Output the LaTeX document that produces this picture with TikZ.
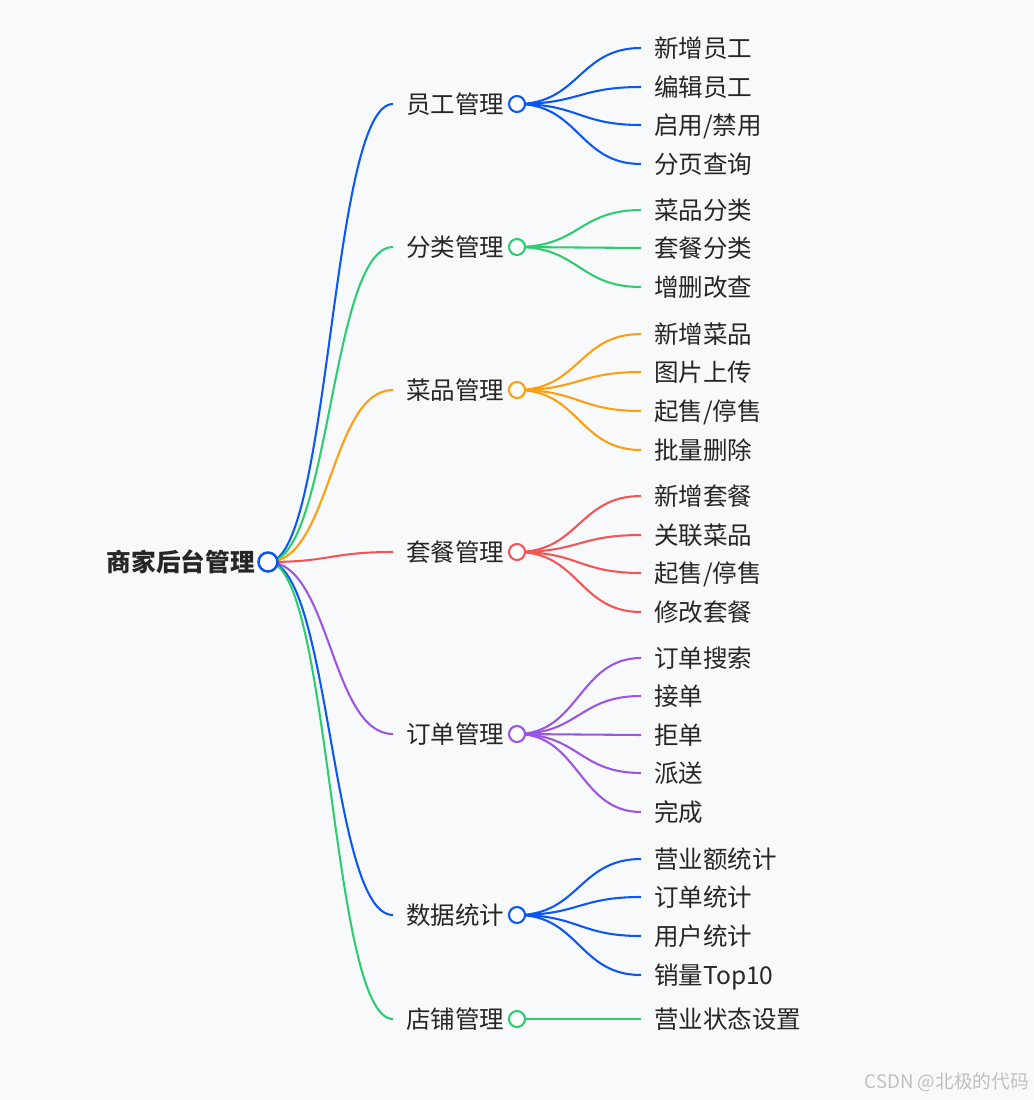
\documentclass[tikz,border=0pt]{standalone}
\usepackage{fontspec}
\setmainfont{Noto Sans CJK SC}
\definecolor{bgc}{HTML}{F8F9FB}
\definecolor{cblue}{HTML}{0B57F5}
\definecolor{cgreen}{HTML}{2ECC71}
\definecolor{corange}{HTML}{FF9E0D}
\definecolor{cred}{HTML}{F55454}
\definecolor{cpurple}{HTML}{9B55E5}
\definecolor{ctext}{HTML}{262626}
\pgfdeclarelayer{bglayer}
\pgfdeclarelayer{linklayer}
\pgfsetlayers{bglayer,linklayer,main}
\tikzset{
  link/.style={line width=1.55pt},
  lbl/.style={anchor=west, inner xsep=9.75pt, inner ysep=0pt, text height=16.2pt, text depth=2.2pt, font=\fontsize{18.4}{20}\selectfont, text=ctext},
  dot/.style={circle, draw, fill=white, line width=1.6pt, minimum size=12pt, inner sep=0pt},
}
\newcommand\mmbranch[5]{%
  \node[lbl] (#1) at (393,#3) {#4};
  \node[dot,draw=#2] (#1dot) at (517,#3) {};
  \begin{pgfonlayer}{linklayer}
    \draw[link,#2] (root.center) .. controls (330.5,562) and (330.5,#3) .. (#1.west);
  \end{pgfonlayer}
  \foreach \yy/\lt [count=\i] in {#5} {
    \node[lbl] (#1-\i) at (641,\yy) {\lt};
    \begin{pgfonlayer}{linklayer}
      \draw[link,#2] (#1dot.center) .. controls (579,#3) and (579,\yy) .. (#1-\i.west);
    \end{pgfonlayer}
  }
}
\begin{document}
\begin{tikzpicture}[x=0.75pt,y=-0.75pt]
  \begin{pgfonlayer}{bglayer}
    \fill[bgc] (0,0) rectangle (1034,1100);
  \end{pgfonlayer}
  \useasboundingbox (0,0) rectangle (1034,1100);
  \node[circle, draw=cblue, fill=white, line width=1.9pt, minimum size=14.25pt, inner sep=0pt] (root) at (268,562) {};
  \node[anchor=east, inner sep=0pt, text height=16.3pt, text depth=2.2pt, font=\fontsize{18.5}{20}\selectfont\bfseries, text=ctext] (roottxt) at (255,562) {商家后台管理};
  \mmbranch{b1}{cblue}{104}{员工管理}{48/新增员工, 87/编辑员工, 125/{启用/禁用}, 164/分页查询}
  \mmbranch{b2}{cgreen}{247}{分类管理}{210/菜品分类, 248/套餐分类, 287/增删改查}
  \mmbranch{b3}{corange}{390}{菜品管理}{334/新增菜品, 372/图片上传, 411/{起售/停售}, 450/批量删除}
  \mmbranch{b4}{cred}{552}{套餐管理}{496/新增套餐, 535/关联菜品, 573/{起售/停售}, 612/修改套餐}
  \mmbranch{b5}{cpurple}{734}{订单管理}{658/订单搜索, 696/接单, 735/拒单, 773/派送, 812/完成}
  \mmbranch{b6}{cblue}{915}{数据统计}{859/营业额统计, 897/订单统计, 936/用户统计, 975/销量Top10}
  \mmbranch{b7}{cgreen}{1019}{店铺管理}{1019/营业状态设置}
  \node[anchor=east, inner sep=0pt, font=\fontsize{14}{16}\selectfont, text=black!25] (wm) at (1029,1082) {CSDN @北极的代码};
\end{tikzpicture}
\end{document}
